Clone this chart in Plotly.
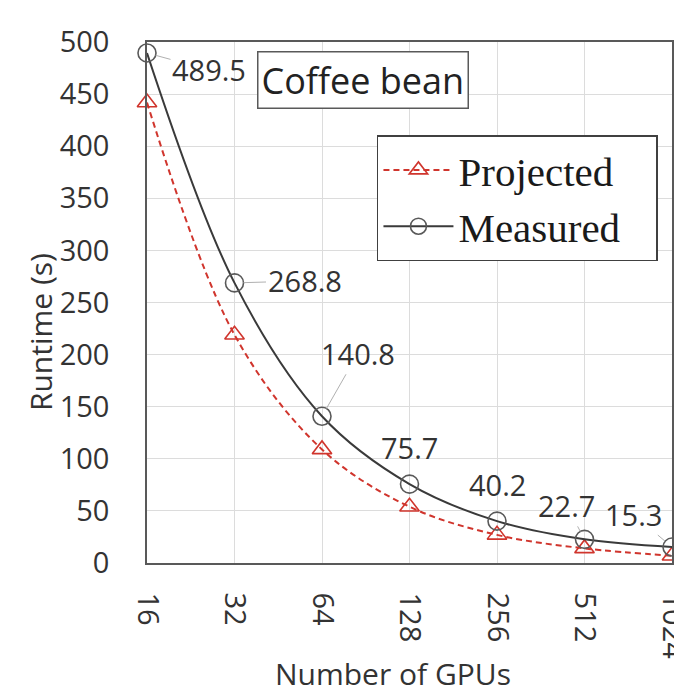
import plotly.graph_objects as go

gpus = ["16", "32", "64", "128", "256", "512", "1024"]
measured = [489.5, 268.8, 140.8, 75.7, 40.2, 22.7, 15.3]
projected = [442, 219, 109, 54, 27, 14, 7]
measured_labels = ["489.5", "268.8", "140.8", "75.7", "40.2", "22.7", "15.3"]
y_ticks = [0, 50, 100, 150, 200, 250, 300, 350, 400, 450, 500]

SANS = "Open Sans"
TXT = "#333333"
NB = "\u00a0"

fig = go.Figure()
fig.add_trace(go.Scatter(
    x=gpus, y=projected, name="Projected" + NB * 3, mode="lines+markers",
    line=dict(color="#d0352d", width=2, dash="6px,4px", shape="spline", smoothing=1.0),
    marker=dict(symbol="triangle-up-open", size=17, color="#d0352d", line=dict(width=1.6, color="#d0352d")),
    cliponaxis=False,
))
fig.add_trace(go.Scatter(
    x=gpus, y=measured, name="Measured" + NB * 3, mode="lines+markers",
    line=dict(color="#3a3a3a", width=2, shape="spline", smoothing=1.0),
    marker=dict(symbol="circle-open", size=18, color="#595959", line=dict(width=1.6, color="#595959")),
    cliponaxis=False,
))

# label offsets (pixels) for measured data labels
offsets = [(62, 17), (70, -2), (36, -63), (0, -37), (0, -37), (-18, -34), (-39, -33)]
leader = [True, True, True, False, False, True, True]
for i, (v, lab, (dx, dy), ld) in enumerate(zip(measured, measured_labels, offsets, leader)):
    if ld:
        fig.add_annotation(x=i, y=v, text=lab, showarrow=True, ax=dx, ay=dy,
                           arrowhead=0, arrowwidth=1, arrowcolor="#b0b0b0", standoff=9,
                           font=dict(family=SANS, size=29, color=TXT))
    else:
        fig.add_annotation(x=i, y=v, text=lab, showarrow=False, xshift=dx, yshift=-dy,
                           xanchor="center", yanchor="middle",
                           font=dict(family=SANS, size=29, color=TXT))

fig.add_annotation(xref="paper", yref="paper", x=0.411, y=0.927, xanchor="center", yanchor="middle",
                   text="Coffee bean",
                   showarrow=False, font=dict(family=SANS, size=36, color="#222222"),
                   bordercolor="#595959", borderwidth=1.5, borderpad=3, bgcolor="white")

# axis titles
fig.add_annotation(xref="paper", yref="paper", x=0.469, y=-0.212, xanchor="center", yanchor="middle",
                   text="Number of GPUs", showarrow=False,
                   font=dict(family=SANS, size=30, color=TXT))
fig.add_annotation(xref="paper", yref="paper", x=-0.204, y=0.443, xanchor="center", yanchor="middle",
                   text="Runtime (s)", textangle=-90, showarrow=False,
                   font=dict(family=SANS, size=30, color=TXT))

fig.update_layout(
    width=674, height=695,
    margin=dict(l=147, r=2, t=42, b=132),
    paper_bgcolor="white", plot_bgcolor="white",
    showlegend=True,
    legend=dict(x=0.438, y=0.821, xanchor="left", yanchor="top",
                font=dict(family="Liberation Serif", size=41, color="#1a1a1a"),
                bordercolor="#404040", borderwidth=1.5, bgcolor="white",
                itemwidth=70),
    xaxis=dict(type="category", range=[0, 6], tickangle=90,
               showgrid=True, gridcolor="#dcdcdc", gridwidth=1,
               showline=True, mirror=True, linecolor="#595959", linewidth=1.5,
               tickfont=dict(family=SANS, size=29, color=TXT),
               ticklabelstandoff=22, automargin=False),
    yaxis=dict(range=[0, 500], tickvals=y_ticks,
               showgrid=True, gridcolor="#dcdcdc", gridwidth=1, zeroline=False,
               showline=True, mirror=True, linecolor="#595959", linewidth=1.5,
               tickfont=dict(family=SANS, size=29, color=TXT),
               ticklabelstandoff=30, automargin=False),
)

fig.write_html("out.html", config={"displayModeBar": False},
               post_script="document.body.style.margin='0';document.body.style.overflow='hidden';")
